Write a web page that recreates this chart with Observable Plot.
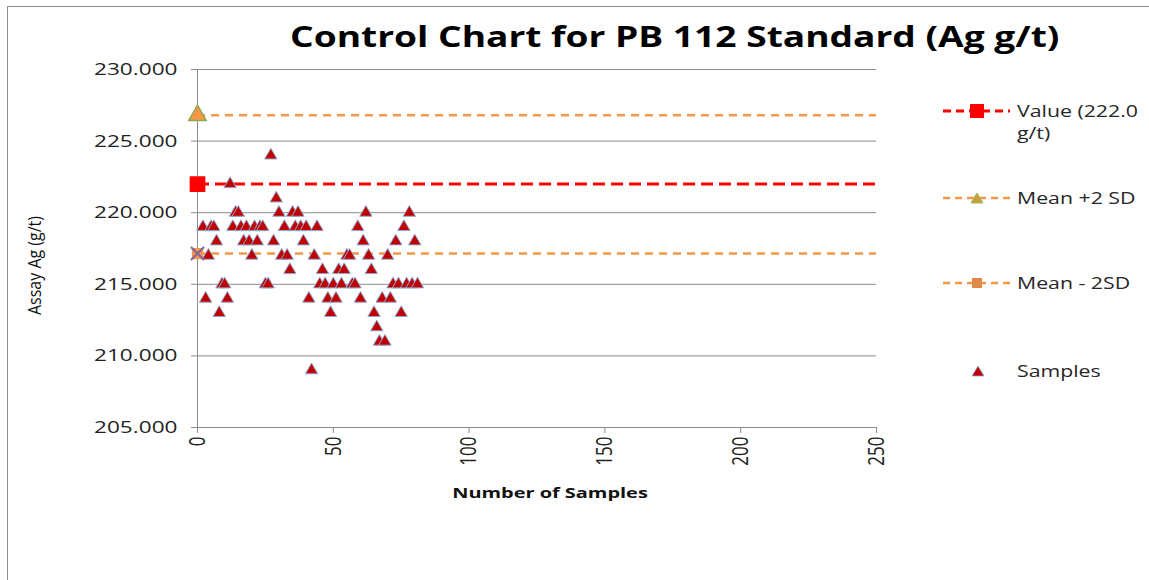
<!DOCTYPE html>
<html>
<head>
<meta charset="utf-8">
<script src="https://cdn.jsdelivr.net/npm/d3@7"></script>
<script src="https://cdn.jsdelivr.net/npm/@observablehq/plot@0.6"></script>
<style>
  body { margin: 0; background: #fff; }
  #chart { position: relative; width: 1149px; height: 580px; font-family: "Open Sans", sans-serif; color: #222; overflow: hidden; }
  #frame { position: absolute; left: 7px; top: 6px; width: 1200px; height: 600px; border: 1.5px solid #8c8c8c; box-sizing: border-box; }
  #title { position: absolute; left: 290px; top: 21px; font-size: 28px; font-weight: bold; white-space: nowrap; line-height: 1.1; color: #000; transform: scaleX(1.326); transform-origin: 0 0; }
  #plot { position: absolute; left: 0; top: 0; }
  #legend { position: absolute; left: 938px; top: 0; width: 211px; font-size: 16px; color: #262626; }
  .item { position: absolute; left: 0; display: flex; align-items: flex-start; }
  .item svg { flex: none; }
  .item .lab { margin-left: 7px; line-height: 22px; width: 98px; transform: scaleX(1.33); transform-origin: 0 0; margin-top: -1px; }
</style>
</head>
<body>
<div id="chart">
  <div id="frame"></div>
  <div id="plot"></div>
  <div id="title"></div>
  <div id="legend"></div>
</div>
<script>
// ---- data ----
const sampleNo = [2,3,4,5,6,7,8,9,10,11,12,13,14,15,16,17,18,19,20,21,22,23,24,25,26,27,28,29,30,31,32,33,34,35,36,37,38,39,40,41,42,43,44,45,46,47,48,49,50,51,52,53,54,55,56,57,58,59,60,61,62,63,64,65,66,67,68,69,70,71,72,73,74,75,76,77,78,79,80,81];
const sampleAg = [219,214,217,219,219,218,213,215,215,214,222,219,220,220,219,218,219,218,217,219,218,219,219,215,215,224,218,221,220,217,219,217,216,220,219,220,219,218,219,214,209,217,219,215,216,215,214,213,215,214,216,215,216,217,217,215,215,219,214,218,220,217,216,213,212,211,214,211,217,214,215,218,215,213,219,215,220,215,218,215];
const refNames = ["Value (222.0 g/t)", "Mean +2 SD", "Mean - 2SD"];
const refValues = [222.0, 226.8, 217.15];
const yTicks = [205, 210, 215, 220, 225, 230];
const xTicks = [0, 50, 100, 150, 200, 250];
const titleText = "Control Chart for PB 112 Standard (Ag g/t)";
const xLabel = "Number of Samples";
const yLabel = "Assay Ag (g/t)";
const samplesName = "Samples";

// ---- styles ----
const RED = "#ff0000", ORANGE = "#f79646", DARKRED = "#c00000", EDGE = "#8eaad6", GRID = "#8c8c8c";
const STRETCH = 1.33; // the reference's text is drawn horizontally stretched

const samples = sampleNo.map((n, i) => ({n, ag: sampleAg[i]}));
const refs = refNames.map((name, i) => ({name, value: refValues[i]}));

const chart = Plot.plot({
  width: 1149, height: 580,
  marginLeft: 197, marginRight: 273, marginTop: 69, marginBottom: 153,
  style: {fontFamily: '"Open Sans", sans-serif', fontSize: "17px", color: "#222", background: "transparent", overflow: "visible"},
  x: {domain: [0, 250]},
  y: {domain: [205, 230]},
  marks: [
    Plot.gridY(yTicks, {stroke: GRID, strokeOpacity: 1}),
    Plot.ruleX([0], {stroke: GRID}),
    Plot.ruleY([205], {stroke: GRID}),
    Plot.axisY(yTicks, {tickFormat: d3.format(".3f"), tickSize: 6, tickPadding: 14, stroke: GRID, fill: "#222", label: null}),
    Plot.axisX(xTicks, {tickRotate: -90, tickSize: 6, tickPadding: 3, stroke: GRID, fill: "#222", label: null}),
    Plot.text([xLabel], {frameAnchor: "bottom", lineAnchor: "middle", dx: 13, dy: 66, fontSize: 15, fontWeight: "bold", fill: "#111"}),
    Plot.text([yLabel], {frameAnchor: "left", textAnchor: "middle", lineAnchor: "middle", rotate: -90, dx: -162, dy: 17, fontSize: 16, fill: "#111"}),
    Plot.ruleY([refs[1]], {y: "value", x1: 0, x2: 250, stroke: ORANGE, strokeWidth: 2.5, strokeDasharray: "8,6"}),
    Plot.ruleY([refs[2]], {y: "value", x1: 0, x2: 250, stroke: ORANGE, strokeWidth: 2.5, strokeDasharray: "8,6"}),
    Plot.ruleY([refs[0]], {y: "value", x1: 0, x2: 250, stroke: RED, strokeWidth: 3, strokeDasharray: "12,6"}),
    Plot.dot(samples, {x: "n", y: "ag", symbol: "triangle", r: 4.6, fill: DARKRED, stroke: EDGE, strokeWidth: 1}),
    Plot.dot([refs[0]], {x: () => 0, y: "value", symbol: "square", r: 8, fill: RED, stroke: RED}),
    Plot.dot([refs[1]], {x: () => 0, y: "value", symbol: "triangle", r: 6.5, fill: ORANGE, stroke: "#8aab4c", strokeWidth: 1.5}),
    Plot.dot([refs[2]], {x: () => 0, y: "value", symbol: "square", r: 5.5, fill: ORANGE, stroke: ORANGE}),
    Plot.dot([refs[2]], {x: () => 0, y: "value", symbol: "times", r: 6, stroke: "#8064a2", strokeWidth: 2})
  ]
});

// widen text glyphs like the reference: each text sits at its local origin, so append a scale
function stretch(el, sx, sy) {
  const t = el.getAttribute("transform") || "";
  el.setAttribute("transform", `${t} scale(${sx},${sy})`);
}
chart.querySelectorAll('g[aria-label="y-axis tick label"] text').forEach(el => stretch(el, STRETCH, 1));
chart.querySelectorAll('g[aria-label="x-axis tick label"] text').forEach(el => stretch(el, 1, STRETCH));
chart.querySelectorAll('g[aria-label="text"] text').forEach(el => {
  const tr = el.getAttribute("transform") || "";
  if (tr.includes("rotate")) stretch(el, 1, 1.1); else stretch(el, STRETCH, 1);
});

document.getElementById("plot").appendChild(chart);
document.getElementById("title").textContent = titleText;

// ---- legend ----
const legend = document.getElementById("legend");
const items = [
  {label: refNames[0], top: 101, line: RED, width: 3, dash: "8,5", marker: `<rect x="32" y="3" width="14" height="14" fill="${RED}"/>`},
  {label: refNames[1], top: 188, line: ORANGE, width: 2.5, dash: "7,5", marker: `<path d="M39,5 L45,15 L33,15 Z" fill="#c9a040" stroke="#9bbb59"/>`},
  {label: refNames[2], top: 273, line: ORANGE, width: 2.5, dash: "7,5", marker: `<rect x="34" y="5" width="10" height="10" fill="#e08a4a"/>`},
  {label: samplesName, top: 361, line: null, marker: `<path d="M40,5 L46,15 L34,15 Z" fill="${DARKRED}" stroke="${EDGE}" stroke-width="0.8"/>`}
];
for (const it of items) {
  const d = document.createElement("div");
  d.className = "item";
  d.style.top = it.top + "px";
  const line = it.line ? `<line x1="5" x2="72" y1="10" y2="10" stroke="${it.line}" stroke-width="${it.width}" stroke-dasharray="${it.dash}"/>` : "";
  d.innerHTML = `<svg width="72" height="20">${line}${it.marker}</svg><div class="lab"></div>`;
  d.querySelector(".lab").textContent = it.label;
  legend.appendChild(d);
}
</script>
</body>
</html>
